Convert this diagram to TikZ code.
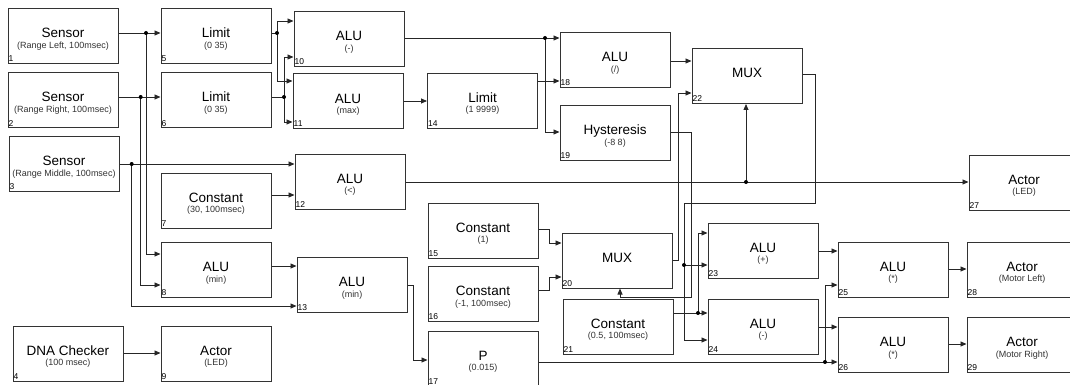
\documentclass[tikz,border=0pt]{standalone}
\usepackage{fontspec}
\setmainfont{Liberation Sans}
\usetikzlibrary{arrows.meta}
\newcommand\blk[6]{%
  \node[box] (#1) at (#2,#3) {};
  \node[ttl] (#1t) at ([yshift=-1.5pt]#1.center) {#4};
  \node[sub] (#1s) at ([yshift=-12pt]#1.center) {#5};
  \node[num] (#1n) at ([xshift=1pt,yshift=2.5pt]#1.south west) {#6};
}
\begin{document}
\begin{tikzpicture}[x=1pt,y=-1pt,
  box/.style={draw=black!80, line width=1pt, minimum width=110pt, minimum height=55pt, inner sep=0pt, fill=white},
  ttl/.style={anchor=base, inner sep=0pt, font=\fontsize{13.5}{14}\selectfont},
  sub/.style={anchor=base, inner sep=0pt, font=\fontsize{9}{10}\selectfont, text=black!80},
  num/.style={anchor=base west, inner sep=0pt, font=\fontsize{8.5}{9}\selectfont},
  wire/.style={draw=black!85, line width=0.8pt},
  arr/.style={wire, -{Triangle[length=6pt,width=5pt]}},
  dot/.style={circle, fill=black, inner sep=0pt, minimum size=4pt}]
\useasboundingbox (0,0) rectangle (1070,385);
% blocks
\blk{b1}{63}{36.5}{Sensor}{(Range Left, 100msec)}{1}
\blk{b2}{63}{100.5}{Sensor}{(Range Right, 100msec)}{2}
\blk{b3}{64}{164}{Sensor}{(Range Middle, 100msec)}{3}
\blk{b4}{68}{353.5}{DNA Checker}{(100 msec)}{4}
\blk{b5}{216}{36.5}{Limit}{(0 35)}{5}
\blk{b6}{216}{100.5}{Limit}{(0 35)}{6}
\blk{b7}{216}{200.5}{Constant}{(30, 100msec)}{7}
\blk{b8}{216}{270}{ALU}{(min)}{8}
\blk{b9}{216}{353.5}{Actor}{(LED)}{9}
\blk{b10}{349}{39.5}{ALU}{(-)}{10}
\blk{b11}{348}{101.5}{ALU}{(max)}{11}
\blk{b12}{350}{181.5}{ALU}{(<)}{12}
\blk{b13}{352}{285}{ALU}{(min)}{13}
\blk{b14}{482.5}{101}{Limit}{(1 9999)}{14}
\blk{b15}{483}{230.5}{Constant}{(1)}{15}
\blk{b16}{483}{294}{Constant}{(-1, 100msec)}{16}
\blk{b17}{483}{358.5}{P}{(0.015)}{17}
\blk{b18}{615}{60.5}{ALU}{(/)}{18}
\blk{b19}{615}{133}{Hysteresis}{(-8 8)}{19}
\blk{b20}{617}{260.5}{MUX}{}{20}
\blk{b21}{618}{326.5}{Constant}{(0.5, 100msec)}{21}
\blk{b22}{747}{76}{MUX}{}{22}
\blk{b23}{763}{250.5}{ALU}{(+)}{23}
\blk{b24}{763}{326.5}{ALU}{(-)}{24}
\blk{b25}{893}{269.5}{ALU}{(*)}{25}
\blk{b26}{893}{345}{ALU}{(*)}{26}
\blk{b27}{1024}{182.5}{Actor}{(LED)}{27}
\blk{b28}{1022}{269.5}{Actor}{(Motor Left)}{28}
\blk{b29}{1022}{345}{Actor}{(Motor Right)}{29}
% junctions
\coordinate (J1) at (146,33);
\coordinate (J2) at (140.7,97);
\coordinate (J3) at (131.7,164);
\coordinate (J5) at (277,33);
\coordinate (J6) at (284,97);
\coordinate (J10) at (545,38);
\coordinate (J12) at (746,182);
\coordinate (J17) at (825,362);
\coordinate (J21) at (698,313);
\coordinate (J22) at (684,265);
% wires
\draw[arr] (b1.east |- 0,33) -- (b5.west |- 0,33);
\draw[arr] (J1) |- (b8.west |- 0,254);
\draw[arr] (b2.east |- 0,97) -- (b6.west |- 0,97);
\draw[arr] (J2) |- (b8.west |- 0,285);
\draw[arr] (b3.east |- 0,164) -- (b12.west |- 0,164);
\draw[arr] (J3) |- (b13.west |- 0,306);
\draw[wire] (b5.east |- 0,33) -- (J5);
\draw[arr] (J5) |- (b10.west |- 0,21);
\draw[arr] (J5) |- (b11.west |- 0,81);
\draw[wire] (b6.east |- 0,97) -- (J6);
\draw[arr] (J6) |- (b10.west |- 0,57);
\draw[arr] (J6) |- (b11.west |- 0,122);
\draw[arr] (b10.east |- 0,38) -- (b18.west |- 0,38);
\draw[arr] (J10) |- (b19.west |- 0,132);
\draw[arr] (b11.east |- 0,101) -- (b14.west |- 0,101);
\draw[arr] (b14.east |- 0,81) -- (b18.west |- 0,81);
\draw[arr] (b18.east |- 0,61) -- (b22.west |- 0,61);
\draw[arr] (b19.east |- 0,132) -| (691,297) -| (b20.south -| 620,0);
\draw[arr] (b20.east |- 0,260) -| (678,93) -- (b22.west |- 0,93);
\draw[arr] (b22.east |- 0,74) -| (815,203) -| (684,340) -- (b24.west |- 0,340);
\draw[arr] (J22) -- (b23.west |- 0,265);
\draw[arr] (b21.east |- 0,313) -- (b24.west |- 0,313);
\draw[arr] (J21) |- (b23.west |- 0,233);
\draw[arr] (b12.east |- 0,182) -- (b27.west |- 0,182);
\draw[arr] (J12) -- (J12 |- b22.south);
\draw[arr] (b7.east |- 0,195) -- (b12.west |- 0,195);
\draw[arr] (b8.east |- 0,266) -- (b13.west |- 0,266);
\draw[arr] (b13.east |- 0,285) -| (413,360) -- (b17.west |- 0,360);
\draw[arr] (b15.east |- 0,229) -| (549,243) -- (b20.west |- 0,243);
\draw[arr] (b16.east |- 0,290) -| (549,277) -- (b20.west |- 0,277);
\draw[arr] (b17.east |- 0,362) -- (b26.west |- 0,362);
\draw[arr] (J17) |- (b25.west |- 0,285);
\draw[arr] (b23.east |- 0,251) -- (b25.west |- 0,251);
\draw[arr] (b24.east |- 0,327) -- (b26.west |- 0,327);
\draw[arr] (b25.east |- 0,269) -- (b28.west |- 0,269);
\draw[arr] (b26.east |- 0,344) -- (b29.west |- 0,344);
\draw[arr] (b4.east |- 0,353) -- (b9.west |- 0,353);
% dots
\foreach \j in {J1,J2,J3,J5,J6,J10,J12,J17,J21,J22}
  \node[dot] at (\j) {};
\end{tikzpicture}
\end{document}
